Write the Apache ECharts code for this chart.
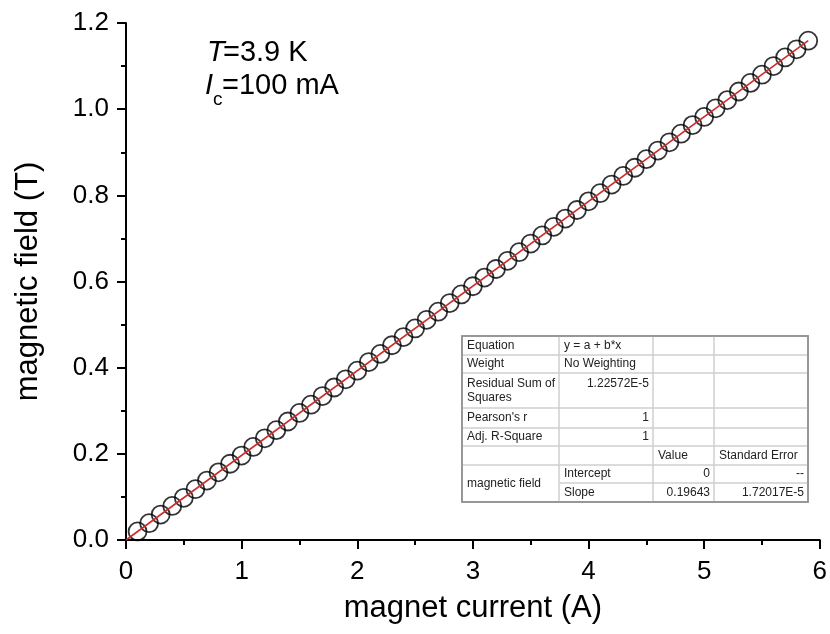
<!DOCTYPE html>
<html><head><meta charset="utf-8">
<script src="https://cdn.jsdelivr.net/npm/echarts/dist/echarts.min.js"></script>
<style>html,body{margin:0;padding:0;background:#fff}#c{width:830px;height:634px}</style>
</head><body><div id="c"></div>
<script>
// ---- data ----
const currentA = [0.1,0.2,0.3,0.4,0.5,0.6,0.7,0.8,0.9,1.0,1.1,1.2,1.3,1.4,1.5,1.6,1.7,1.8,1.9,2.0,
  2.1,2.2,2.3,2.4,2.5,2.6,2.7,2.8,2.9,3.0,3.1,3.2,3.3,3.4,3.5,3.6,3.7,3.8,3.9,4.0,
  4.1,4.2,4.3,4.4,4.5,4.6,4.7,4.8,4.9,5.0,5.1,5.2,5.3,5.4,5.5,5.6,5.7,5.8,5.9];
const fieldT = [0.020,0.039,0.059,0.079,0.098,0.118,0.138,0.157,0.177,0.196,0.216,0.236,0.255,0.275,0.295,0.314,0.334,0.354,0.373,0.393,
  0.413,0.432,0.452,0.471,0.491,0.511,0.530,0.550,0.570,0.589,0.609,0.629,0.648,0.668,0.688,0.707,0.727,0.746,0.766,0.786,
  0.805,0.825,0.845,0.864,0.884,0.904,0.923,0.943,0.963,0.982,1.002,1.021,1.041,1.061,1.080,1.100,1.120,1.139,1.159];
const fitX = [0, 5.9];
const fitY = [0, 1.159];
const xTickValues = [0,1,2,3,4,5,6];
const yTickValues = [0.0,0.2,0.4,0.6,0.8,1.0,1.2];
const xTitle = 'magnet current (A)';
const yTitle = 'magnetic field (T)';
const tableRows = [
  ['Equation', 'y = a + b*x', '', ''],
  ['Weight', 'No Weighting', '', ''],
  ['Residual Sum of\nSquares', '1.22572E-5', '', ''],
  ["Pearson's r", '1', '', ''],
  ['Adj. R-Square', '1', '', ''],
  ['', '', 'Value', 'Standard Error'],
  ['magnetic field', 'Intercept', '0', '--'],
  ['', 'Slope', '0.19643', '1.72017E-5']
];

// ---- layout ----
const FONT = '"Liberation Sans", Arial, sans-serif';
const colX = [462, 559, 653, 714, 808];
const rowY = [336, 355, 373, 408, 428, 446, 465, 483, 502];
const isNum = s => /^[-0-9.E]+$/.test(s) && s !== '';

const graphics = [];
graphics.push({type:'rect', shape:{x:colX[0], y:rowY[0], width:colX[4]-colX[0], height:rowY[8]-rowY[0]},
  style:{fill:'#fff', stroke:'#8c8c8c', lineWidth:1.5}, z:10});
for (let r = 0; r < tableRows.length; r++) {
  for (let c = 0; c < 4; c++) {
    if (c === 0 && r === 7) continue; // merged cell
    let y0 = rowY[r], y1 = rowY[r+1];
    if (c === 0 && r === 6) y1 = rowY[8];
    graphics.push({type:'rect', shape:{x:colX[c], y:y0, width:colX[c+1]-colX[c], height:y1-y0},
      style:{fill:'none', stroke:'#cfcfcf', lineWidth:1}, z:11});
    const txt = tableRows[r][c];
    if (!txt) continue;
    const num = isNum(txt);
    let ty = (y0 + y1) / 2;
    if (r === 2 && c === 1) ty = y0 + 11;
    graphics.push({type:'text', x: num ? colX[c+1]-4 : colX[c]+5, y: ty, z:12,
      style:{text: txt, fill:'#222', font:'12px ' + FONT, textAlign: num ? 'right':'left', textVerticalAlign:'middle',
        align: num ? 'right':'left', verticalAlign:'middle', lineHeight: 14}});
  }
}
graphics.push({type:'rect', shape:{x:colX[0], y:rowY[0], width:colX[4]-colX[0], height:rowY[8]-rowY[0]},
  style:{fill:'none', stroke:'#8c8c8c', lineWidth:1.5}, z:13});

// annotation
const AF = 29;
graphics.push({type:'text', x:207, y:53, z:12, style:{text:'T', font:'italic '+AF+'px '+FONT, fill:'#000', textVerticalAlign:'middle', verticalAlign:'middle'}});
graphics.push({type:'text', x:223, y:53, z:12, style:{text:'=3.9 K', font:AF+'px '+FONT, fill:'#000', textVerticalAlign:'middle', verticalAlign:'middle'}});
graphics.push({type:'text', x:205, y:86, z:12, style:{text:'I', font:'italic '+AF+'px '+FONT, fill:'#000', textVerticalAlign:'middle', verticalAlign:'middle'}});
graphics.push({type:'text', x:213, y:100, z:12, style:{text:'c', font:'19px '+FONT, fill:'#000', textVerticalAlign:'middle', verticalAlign:'middle'}});
graphics.push({type:'text', x:222, y:86, z:12, style:{text:'=100 mA', font:AF+'px '+FONT, fill:'#000', textVerticalAlign:'middle', verticalAlign:'middle'}});

const chart = echarts.init(document.getElementById('c'), null, {renderer:'canvas'});
chart.setOption({
  backgroundColor:'#fff',
  animation:false,
  grid:{left:126, right:8, top:23, bottom:94, containLabel:false},
  xAxis:{type:'value', min:xTickValues[0], max:xTickValues[xTickValues.length-1], interval:1,
    name:xTitle, nameLocation:'middle', nameGap:53, nameTextStyle:{fontSize:31, fontFamily:FONT, color:'#000'},
    axisLine:{show:true, onZero:false, lineStyle:{color:'#000', width:2}},
    axisTick:{show:true, inside:false, length:9, lineStyle:{color:'#000', width:2}},
    minorTick:{show:true, splitNumber:2, length:5, lineStyle:{color:'#000', width:2}},
    axisLabel:{fontSize:26, fontFamily:FONT, color:'#000', margin:19},
    splitLine:{show:false}},
  yAxis:{type:'value', min:yTickValues[0], max:yTickValues[yTickValues.length-1], interval:0.2,
    name:yTitle, nameLocation:'middle', nameGap:82, nameTextStyle:{fontSize:31, fontFamily:FONT, color:'#000'},
    axisLine:{show:true, onZero:false, lineStyle:{color:'#000', width:2}},
    axisTick:{show:true, inside:false, length:9, lineStyle:{color:'#000', width:2}},
    minorTick:{show:true, splitNumber:2, length:5, lineStyle:{color:'#000', width:2}},
    axisLabel:{fontSize:26, fontFamily:FONT, color:'#000', margin:17, formatter: v => v.toFixed(1)},
    splitLine:{show:false}},
  series:[
    {type:'scatter', data: currentA.map((x,i)=>[x, fieldT[i]]), symbol:'circle', symbolSize:18, clip:false,
      itemStyle:{color:'rgba(0,0,0,0)', borderColor:'#000', borderWidth:1.8}, z:2},
    {type:'line', data: fitX.map((x,i)=>[x, fitY[i]]), showSymbol:false, symbol:'none',
      lineStyle:{color:'#cc2b2b', width:1.6}, z:3}
  ],
  graphic: graphics
});
</script></body></html>
